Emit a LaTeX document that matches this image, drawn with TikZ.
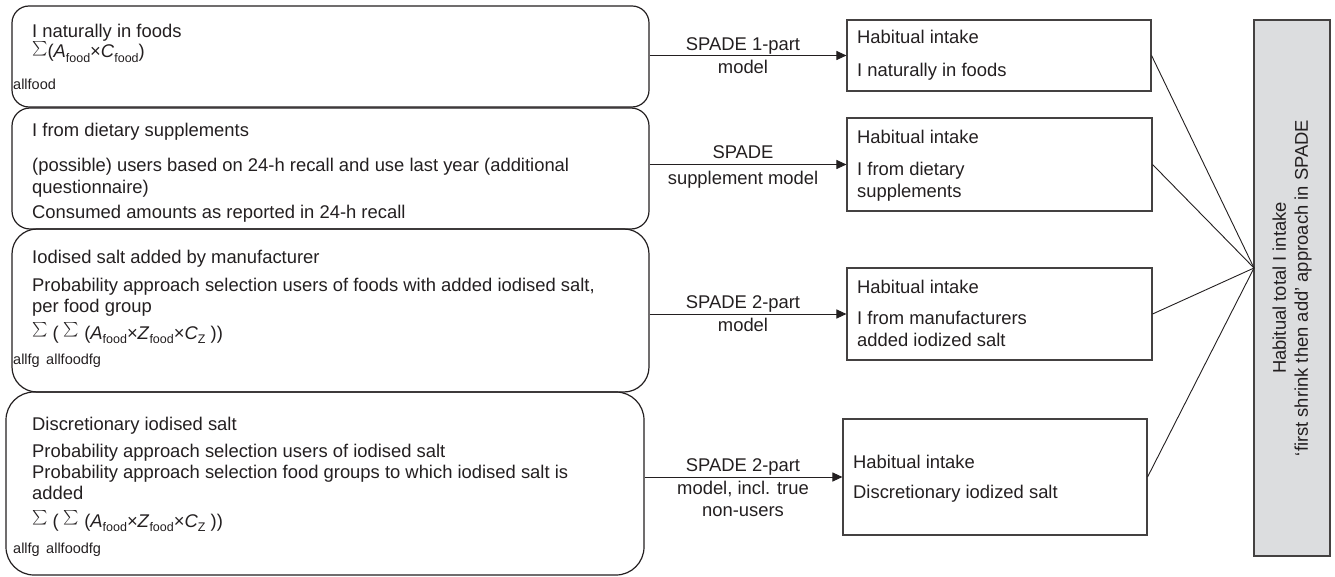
\documentclass[tikz,border=0pt]{standalone}
\usepackage{fontspec}
\setmainfont{Liberation Sans}
\usetikzlibrary{arrows.meta}
\definecolor{gfill}{RGB}{220,221,223}
\definecolor{ink}{RGB}{35,31,32}
\newcommand{\subtxt}[1]{\raisebox{-4.5pt}{\fontsize{12.5}{14}\selectfont #1}}
\newcommand{\sumsym}{\raisebox{3pt}{\scalebox{1.45}{$\sum$}}}
\begin{document}
\begin{tikzpicture}[x=1pt,y=-1pt,
  lbox/.style={draw=ink, line width=1.2pt, inner sep=0pt},
  rbox/.style={draw=ink!85, line width=1.1pt, inner sep=0pt},
  gbox/.style={draw=ink!85, line width=1.1pt, fill=gfill, inner sep=0pt},
  txt/.style={font=\fontsize{18.4}{21.5}\selectfont, text=ink, inner sep=0pt, anchor=base west},
  subl/.style={font=\fontsize{14.5}{16}\selectfont, text=ink, inner sep=0pt, anchor=base west},
  lab/.style={font=\fontsize{18.4}{21.5}\selectfont, text=ink, inner sep=0pt, anchor=base},
  arr/.style={draw=ink, line width=1pt, -{Triangle[length=10pt,width=9pt]}},
  conn/.style={draw=ink, line width=0.9pt}
]
\useasboundingbox (0,0) rectangle (1335,577);

% left rounded boxes
\node[lbox, rounded corners=17pt, minimum width=637pt, minimum height=101pt] (B1) at (330.5,56.5) {};
\node[lbox, rounded corners=18pt, minimum width=637pt, minimum height=121pt] (B2) at (330.5,168.5) {};
\node[lbox, rounded corners=25pt, minimum width=637pt, minimum height=163pt] (B3) at (330.5,310.5) {};
\node[lbox, rounded corners=28pt, minimum width=638pt, minimum height=183pt] (B4) at (325,483.5) {};

% right boxes
\node[rbox, minimum width=304pt, minimum height=71pt] (R1) at (999,55.5) {};
\node[rbox, minimum width=305pt, minimum height=93pt] (R2) at (999.5,164.5) {};
\node[rbox, minimum width=305pt, minimum height=92pt] (R3) at (999.5,314) {};
\node[rbox, minimum width=304pt, minimum height=116pt] (R4) at (995,477) {};

% grey total box
\node[gbox, minimum width=76pt, minimum height=536pt] (G) at (1292,288) {};
\node[font=\fontsize{18.4}{22}\selectfont, text=ink, rotate=90, align=center, inner sep=0pt] (Gt) at (G.center)
  {Habitual total I intake\\‘first shrink then add’ approach in SPADE};

% texts box 1
\node[txt] (t11) at (32,38) {I naturally in foods};
\node[txt] (t12) at (32,58) {\sumsym(\textit{A}\subtxt{food}×\textit{C}\subtxt{food})};
\node[subl] (t13) at (13,90) {allfood};

% texts box 2
\node[txt] (t21) at (32,137) {I from dietary supplements};
\node[txt] (t22) at (32,172) {(possible) users based on 24-h recall and use last year (additional};
\node[txt] (t23) at (32,194) {questionnaire)};
\node[txt] (t24) at (32,219) {Consumed amounts as reported in 24-h recall};

% texts box 3
\node[txt] (t31) at (32,264) {Iodised salt added by manufacturer};
\node[txt] (t32) at (32,291) {Probability approach selection users of foods with added iodised salt,};
\node[txt] (t33) at (32,312) {per food group};
\node[txt] (t34) at (32,339) {\sumsym{} ( \sumsym{} (\textit{A}\subtxt{food}×\textit{Z}\subtxt{food}×\textit{C}\subtxt{Z} ))};
\node[subl] (t35) at (13,364) {allfg\, allfoodfg};

% texts box 4
\node[txt] (t41) at (32,430) {Discretionary iodised salt};
\node[txt] (t42) at (32,457) {Probability approach selection users of iodised salt};
\node[txt] (t43) at (32,478) {Probability approach selection food groups to which iodised salt is};
\node[txt] (t44) at (32,499) {added};
\node[txt] (t45) at (32,527) {\sumsym{} ( \sumsym{} (\textit{A}\subtxt{food}×\textit{Z}\subtxt{food}×\textit{C}\subtxt{Z} ))};
\node[subl] (t46) at (13,553) {allfg\, allfoodfg};

% right box texts
\node[txt] (r11) at (857,44) {Habitual intake};
\node[txt] (r12) at (857,77) {I naturally in foods};
\node[txt] (r21) at (857,144) {Habitual intake};
\node[txt] (r22) at (857,176) {I from dietary};
\node[txt] (r23) at (857,198) {supplements};
\node[txt] (r31) at (857,293) {Habitual intake};
\node[txt] (r32) at (857,324) {I from manufacturers};
\node[txt] (r33) at (857,346) {added iodized salt};
\node[txt] (r41) at (853,468) {Habitual intake};
\node[txt] (r42) at (853,498) {Discretionary iodized salt};

% arrows
\draw[arr] (B1.east |- R1.west) -- (R1.west);
\draw[arr] (B2.east |- R2.west) -- (R2.west);
\draw[arr] (B3.east |- R3.west) -- (R3.west);
\draw[arr] (B4.east |- R4.west) -- (R4.west);

% arrow labels
\node[lab] (l11) at (743,50.5) {SPADE 1-part};
\node[lab] (l12) at (743,74) {model};
\node[lab] (l21) at (743,159) {SPADE};
\node[lab] (l22) at (743,185) {supplement model};
\node[lab] (l31) at (743,308) {SPADE 2-part};
\node[lab] (l32) at (743,331) {model};
\node[lab] (l41) at (743,471) {SPADE 2-part};
\node[lab] (l42) at (743,494) {model, incl. true};
\node[lab] (l43) at (743,516) {non-users};

% converging lines
\coordinate (conv) at (1254,268);
\draw[conn] (R1.east) -- (conv);
\draw[conn] (R2.east) -- (conv);
\draw[conn] (R3.east) -- (conv);
\draw[conn] (R4.east) -- (conv);
\end{tikzpicture}
\end{document}
